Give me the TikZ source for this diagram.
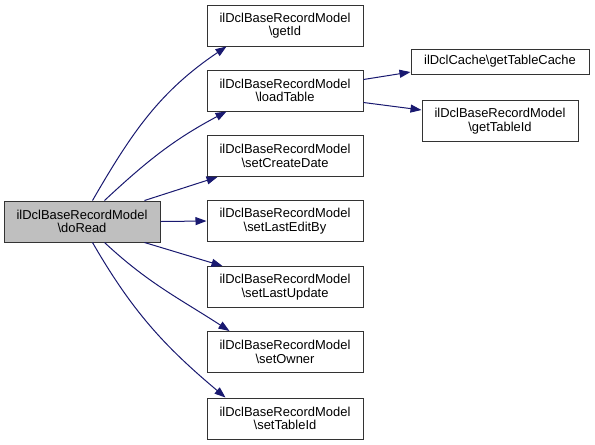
\documentclass[tikz,border=0pt]{standalone}
\usepackage{fontspec}
\setmainfont{Liberation Sans}
\usetikzlibrary{arrows.meta,positioning}
\definecolor{edgeblue}{HTML}{191970}
\definecolor{boxgrey}{HTML}{BFBFBF}
\tikzset{
  fn/.style={draw=black!80, fill=white, line width=0.75pt, minimum width=117pt,
    minimum height=30.75pt, inner sep=0pt, align=center,
    font=\fontsize{9.7}{10.1}\selectfont},
  call/.style={draw=edgeblue, line width=0.75pt,
    -{Triangle[length=8.25pt,width=6pt,fill=edgeblue]}},
}
\begin{document}
\begin{tikzpicture}[x=0.75pt,y=-0.75pt]
        \useasboundingbox (0,0) rectangle (595,444);
        \node[fn, fill=boxgrey] (doRead) at (82,221.5) {ilDclBaseRecordModel\\\textbackslash doRead};
        \node[fn] (getId) at (285,25.5) {ilDclBaseRecordModel\\\textbackslash getId};
        \node[fn] (loadTable) at (285,90.5) {ilDclBaseRecordModel\\\textbackslash loadTable};
        \node[fn] (setCreateDate) at (285,156) {ilDclBaseRecordModel\\\textbackslash setCreateDate};
        \node[fn] (setLastEditBy) at (285,221) {ilDclBaseRecordModel\\\textbackslash setLastEditBy};
        \node[fn] (setLastUpdate) at (285,287) {ilDclBaseRecordModel\\\textbackslash setLastUpdate};
        \node[fn] (setOwner) at (285,352) {ilDclBaseRecordModel\\\textbackslash setOwner};
        \node[fn] (setTableId) at (285,418.5) {ilDclBaseRecordModel\\\textbackslash setTableId};
        \node[fn, minimum width=133.5pt, minimum height=18.75pt] (getTableCache) at (500,61.5) {ilDclCache\textbackslash getTableCache};
        \node[fn] (getTableId) at (500,121) {ilDclBaseRecordModel\\\textbackslash getTableId};
        % calls from doRead
        \draw[call] ([xshift=66.75pt]doRead.north west) to[out=60,in=214] ([xshift=15pt]getId.south west);
        \draw[call] ([xshift=75.75pt]doRead.north west) to[out=43,in=208] ([xshift=15pt]loadTable.south west);
        \draw[call] ([xshift=105.75pt]doRead.north west) -- ([xshift=8.25pt]setCreateDate.south west);
        \draw[call] (doRead.east) -- (setLastEditBy.west);
        \draw[call] ([xshift=105.75pt]doRead.south west) -- ([xshift=12pt]setLastUpdate.north west);
        \draw[call] ([xshift=75.75pt]doRead.south west) to[out=-43,in=147] ([xshift=17.25pt]setOwner.north west);
        \draw[call] ([xshift=66.75pt]doRead.south west) to[out=-60,in=140] ([xshift=14.25pt]setTableId.north west);
        % calls from loadTable
        \draw[call] ([yshift=-7.5pt]loadTable.north east) -- ([yshift=-7.9pt]getTableCache.west);
        \draw[call] ([yshift=6.75pt]loadTable.south east) -- ([yshift=8.25pt]getTableId.west);
\end{tikzpicture}
\end{document}
